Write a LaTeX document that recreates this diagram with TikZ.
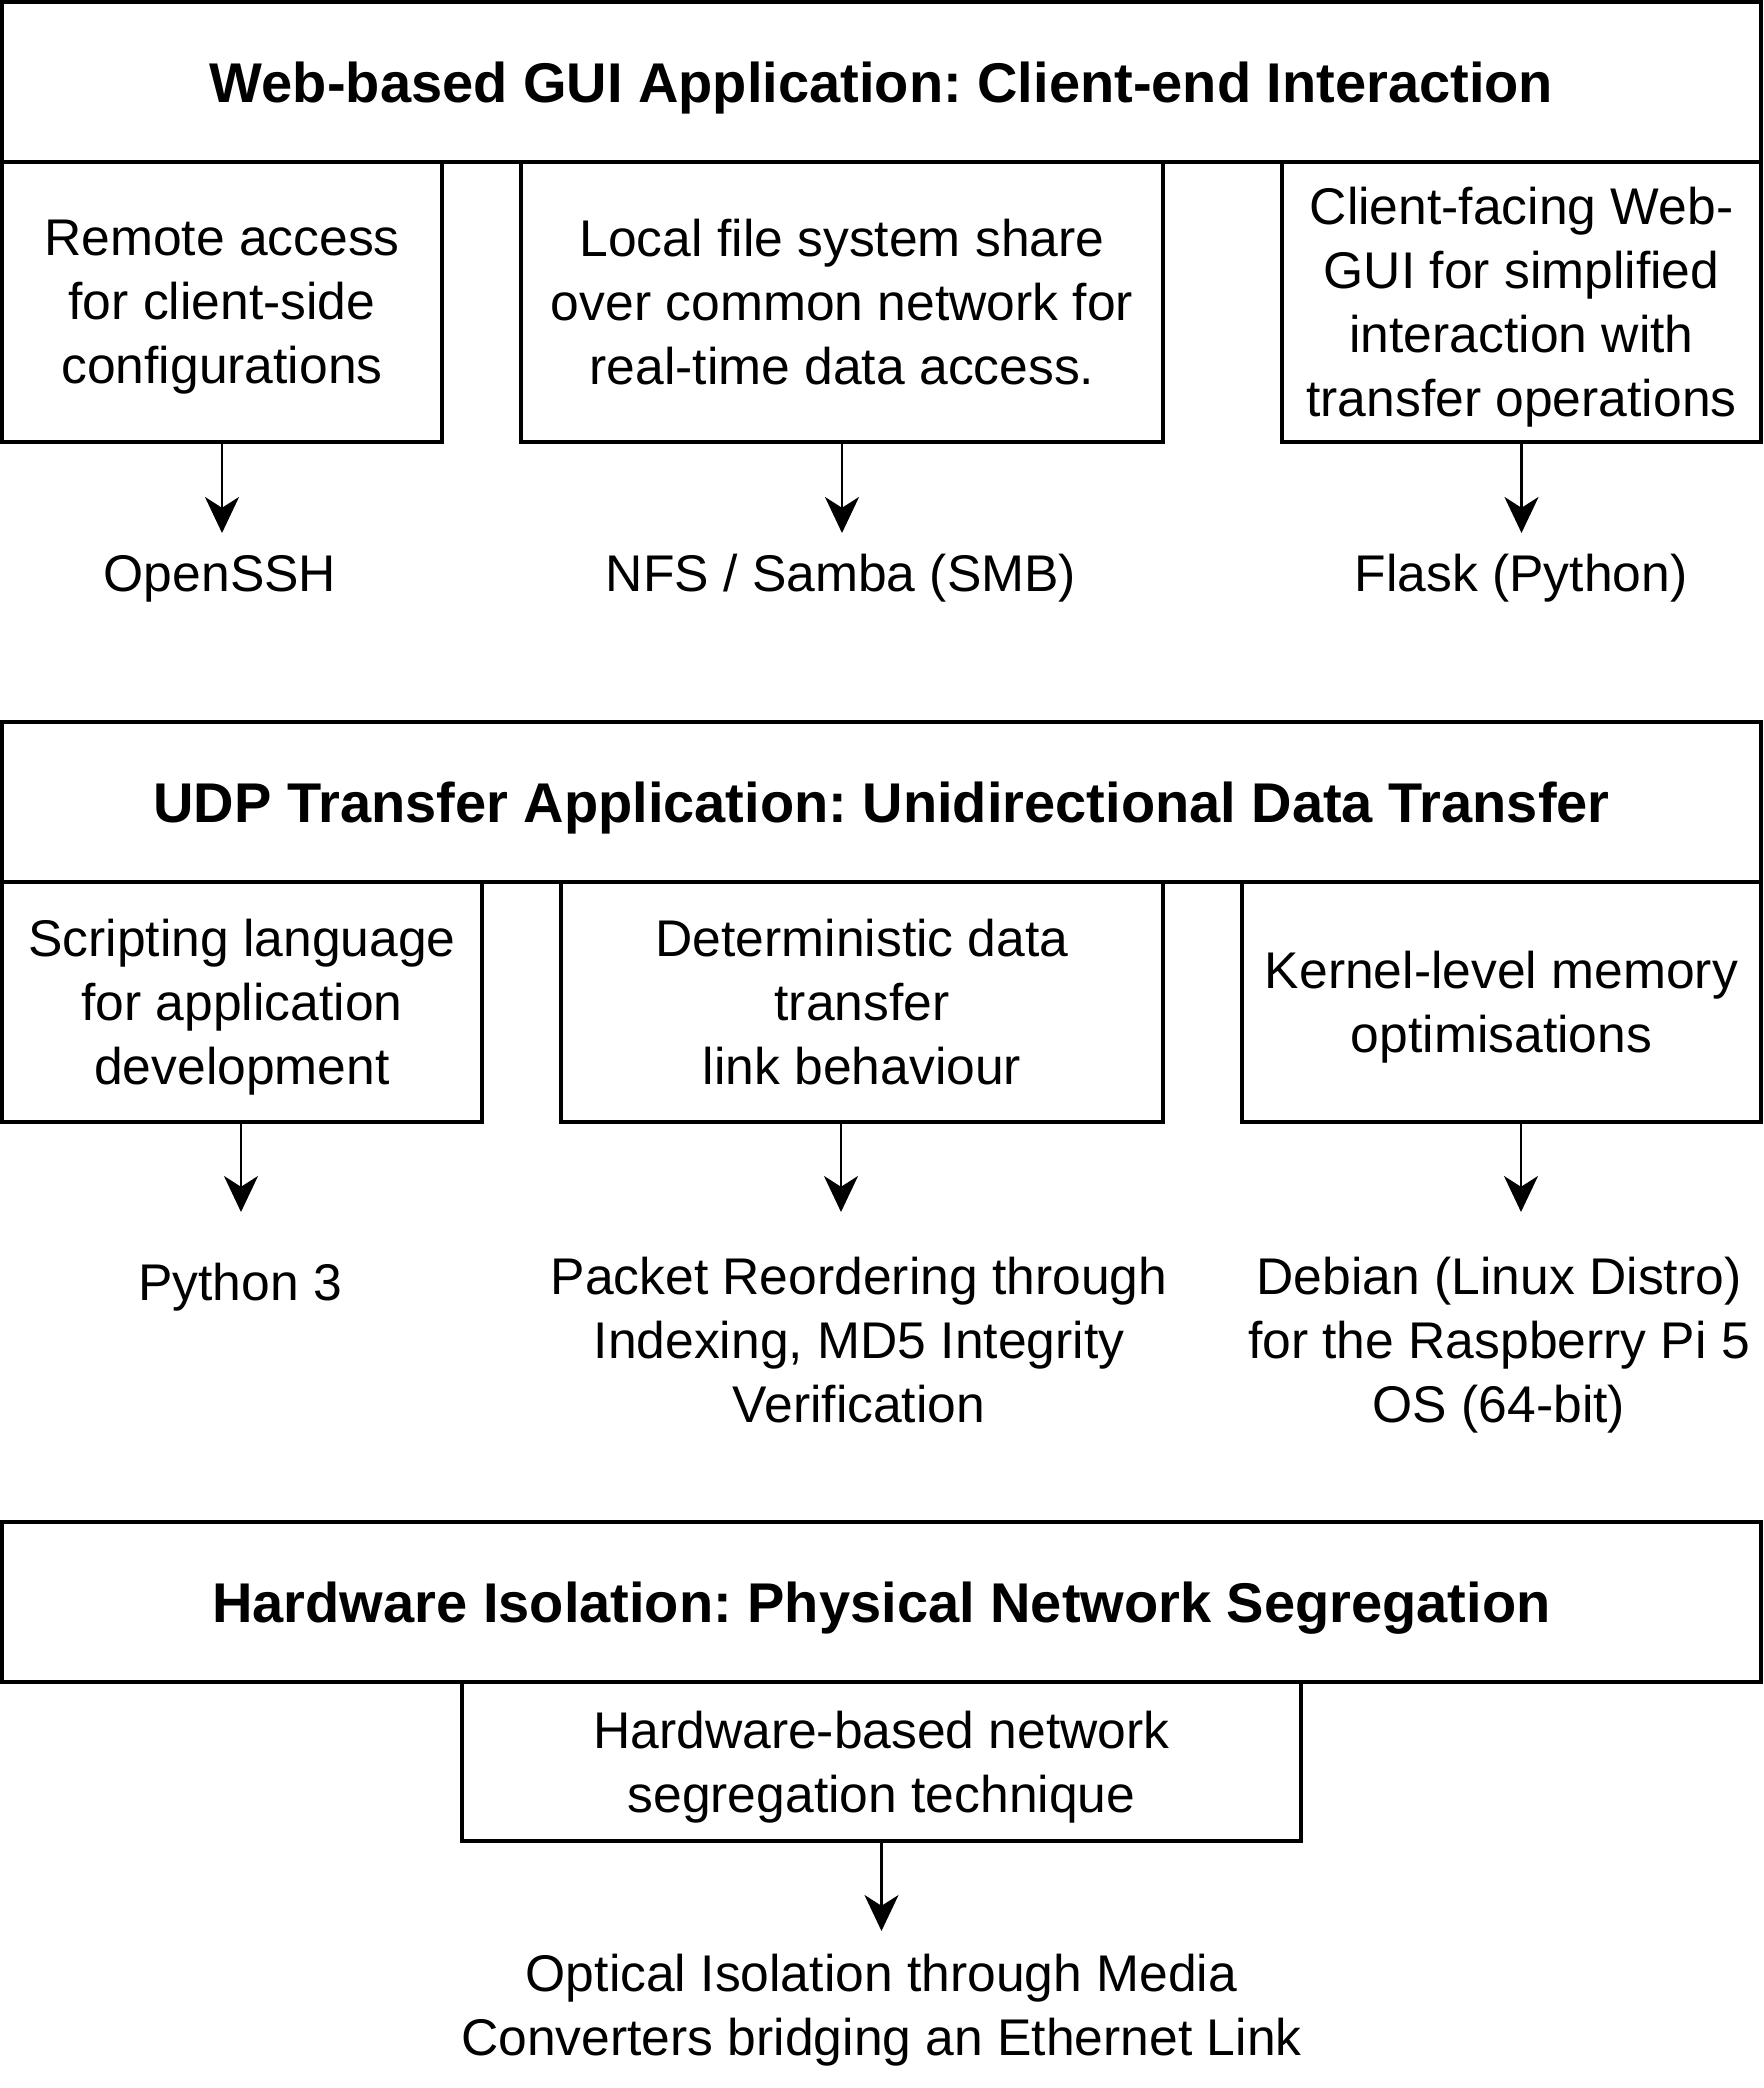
\documentclass[tikz,border=0pt]{standalone}
\usepackage{fontspec}
\setmainfont{Liberation Sans}
\usepackage{tikz}
\usetikzlibrary{arrows.meta,positioning}
\newdimen\px \px=0.25pt
\frenchspacing

\begin{document}
\begin{tikzpicture}[x=0.25pt,y=-0.25pt,
header/.style={draw,line width=0.85pt,outer sep=0pt,inner sep=0pt,text depth=0pt,minimum width=1759\px,minimum height=160\px,font=\fontsize{14}{17}\selectfont\bfseries},
block/.style={draw,line width=0.85pt,outer sep=0pt,inner sep=0pt,text depth=0pt,align=center,font=\fontsize{12.9}{16}\selectfont},
tech/.style={anchor=base,inner sep=0pt,align=center,font=\fontsize{12.9}{16}\selectfont},
arrow/.style={-{Stealth[length=9pt,width=8.5pt,inset=2.7pt]},line width=0.65pt}]
\useasboundingbox (0,0) rectangle (1764,2088);

\node[header] (gui) at (881.5,82) {Web-based GUI Application: Client-end Interaction};
\node[block,minimum width=440\px,minimum height=280\px] (remote) at (222,302) {Remote access\\for client-side\\configurations};
\node[block,minimum width=642\px,minimum height=280\px] (share) at (842,302) {Local file system share\\over common network for\\real-time data access.};
\node[block,minimum width=479\px,minimum height=280\px] (webgui) at (1521.5,302) {Client-facing Web-\\GUI for simplified\\interaction with\\transfer operations};
\coordinate (tipssh) at (222,533); \coordinate (tipnfs) at (842,533); \coordinate (tipflask) at (1521.5,533);
\node[tech] (openssh) at (220,591) {OpenSSH};
\node[tech] (nfs) at (841,591) {NFS / Samba (SMB)};
\node[tech] (flask) at (1521,591) {Flask (Python)};
\draw[arrow] (remote.south) -- (tipssh); \draw[arrow] (share.south) -- (tipnfs); \draw[arrow] (webgui.south) -- (tipflask);

\node[header] (udp) at (881.5,802) {UDP Transfer Application: Unidirectional Data Transfer};
\node[block,minimum width=480\px,minimum height=240\px] (scripting) at (242,1002) {Scripting language\\for application\\development};
\node[block,minimum width=602\px,minimum height=240\px] (determ) at (862,1002) {Deterministic data\\transfer\\link behaviour};
\node[block,minimum width=519\px,minimum height=240\px] (kernel) at (1501.5,1002) {Kernel-level memory\\optimisations};
\coordinate (tippy) at (241,1212); \coordinate (tippkt) at (841,1212); \coordinate (tipdeb) at (1521,1212);
\node[tech] (python) at (240,1300) {Python 3};
\node[tech] (reorder) at (859,1422) {Packet Reordering through\\Indexing, MD5 Integrity\\Verification};
\node[tech] (debian) at (1499,1422) {Debian (Linux Distro)\\for the Raspberry Pi 5\\OS (64-bit)};
\draw[arrow] (scripting.south -| tippy) -- (tippy); \draw[arrow] (determ.south -| tippkt) -- (tippkt); \draw[arrow] (kernel.south -| tipdeb) -- (tipdeb);

\node[header] (hw) at (881.5,1602) {Hardware Isolation: Physical Network Segregation};
\node[block,below=0pt of hw,minimum width=839\px,minimum height=159\px] (segreg) {Hardware-based network\\segregation technique};
\coordinate (tipopt) at (881.5,1931);
\node[tech] (optical) at (881.5,2055) {Optical Isolation through Media\\Converters bridging an Ethernet Link};
\draw[arrow] (segreg.south) -- (tipopt);
\end{tikzpicture}
\end{document}
